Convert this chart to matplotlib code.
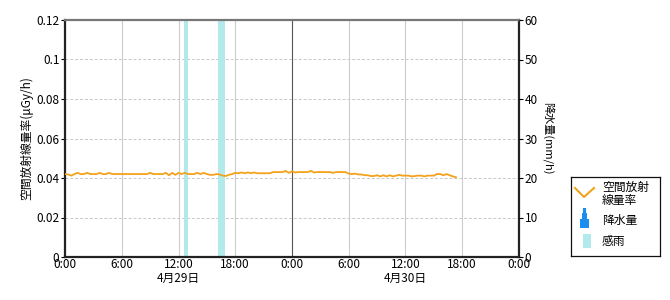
import numpy as np
import matplotlib.pyplot as plt
from matplotlib.patches import Rectangle

plt.rcParams['font.family'] = ['Noto Sans CJK JP', 'DejaVu Sans']

# 空間放射線量率 (x0.001 μGy/h), 20分間隔, 4/29 0:00 から
dose_0_6 = [42.0, 41.8, 41.2, 42.0, 42.6, 42.0, 42.0, 42.6, 42.0, 42.0, 42.0, 42.6, 42.0, 42.0, 42.6, 42.0, 42.0, 42.0]
dose_6_12 = [42.0, 42.0, 42.0, 42.0, 42.0, 42.0, 42.0, 42.0, 42.0, 42.6, 42.0, 42.0, 42.0, 42.0, 42.6, 41.4, 42.6, 41.6]
dose_12_18 = [42.6, 42.0, 42.6, 42.0, 42.0, 42.0, 42.6, 42.0, 42.6, 42.0, 41.6, 41.6, 42.0, 41.8, 41.2, 41.0, 41.6, 42.0]
dose_18_24 = [42.6, 42.4, 42.8, 42.4, 42.8, 42.4, 42.8, 42.4, 42.4, 42.4, 42.4, 42.4, 43.0, 43.0, 43.0, 43.0, 43.6, 42.6]
dose_24_30 = [43.4, 42.8, 43.0, 43.0, 43.0, 43.0, 43.6, 42.8, 43.0, 43.0, 43.0, 43.0, 43.0, 42.6, 43.0, 43.0, 43.0, 43.0]
dose_30_36 = [42.2, 42.0, 42.2, 41.8, 41.8, 41.4, 41.4, 41.0, 41.0, 41.4, 40.8, 41.4, 40.8, 41.4, 40.8, 41.2, 41.6, 41.2]
dose_36_42 = [41.2, 41.2, 40.8, 41.0, 41.2, 41.2, 40.8, 41.2, 41.2, 41.2, 42.0, 42.0, 41.4, 42.0, 41.4, 40.8, 40.4]
STEP_H = 20 / 60

# 感雨 (開始時刻, 終了時刻) [h]
rain_start = [12.6, 16.2]
rain_end = [13.0, 16.9]

x_ticks = [0, 6, 12, 18, 24, 30, 36, 42, 48]
x_labels = ['0:00', '6:00', '12:00', '18:00', '0:00', '6:00', '12:00', '18:00', '0:00']
date_pos = [12, 36]
date_labels = ['4月29日', '4月30日']

ORANGE = '#f5a21b'
RAIN_C = '#b2eaec'
BLUE = '#1b8ff0'


def main():
    dose = np.array(dose_0_6 + dose_6_12 + dose_12_18 + dose_18_24 + dose_24_30 + dose_30_36 + dose_36_42) / 1000
    t = np.arange(len(dose)) * STEP_H

    fig = plt.figure(figsize=(6.7, 3.0), dpi=100)
    ax = fig.add_axes([65 / 670, 43 / 300, 454 / 670, 237 / 300])

    # --- 感雨 ---
    for s, e in zip(rain_start, rain_end):
        ax.axvspan(s, e, color=RAIN_C, lw=0, zorder=1)

    # --- グリッド ---
    for xt in x_ticks[1:-1]:
        c = '#555555' if xt == 24 else '#cccccc'
        ax.axvline(xt, color=c, lw=0.8, zorder=0.5)
    for yt in [0.02, 0.04, 0.06, 0.08, 0.1]:
        ax.axhline(yt, color='#c8c8c8', lw=0.7, ls=(0, (3, 2)), zorder=0.5)

    ax.plot(t, dose, color=ORANGE, lw=1.3, zorder=3)

    ax.set_xlim(0, 48)
    ax.set_ylim(0, 0.12)
    ax.set_xticks(x_ticks)
    ax.set_xticklabels(x_labels)
    ax.set_yticks([0, 0.02, 0.04, 0.06, 0.08, 0.1, 0.12])
    ax.set_yticklabels(['0', '0.02', '0.04', '0.06', '0.08', '0.1', '0.12'])
    ax.tick_params(axis='both', labelsize=8.5, length=3, width=0.8, pad=1)
    ax.tick_params(axis='x', length=0, pad=1)
    ax.set_ylabel('空間放射線量率(μGy/h)', fontsize=8.5, labelpad=2)

    for sp in ['left', 'bottom', 'right']:
        ax.spines[sp].set_color('#222222')
        ax.spines[sp].set_linewidth(1.6)
    ax.spines['top'].set_color('#777777')
    ax.spines['top'].set_linewidth(1.6)

    # 日付ラベル
    for p, lab in zip(date_pos, date_labels):
        ax.annotate(lab, xy=(p, 0), xycoords=('data', 'axes fraction'),
                    xytext=(0, -10.5), textcoords='offset points',
                    ha='center', va='top', fontsize=8.5)

    # --- 降水量 (右軸) ---
    ax2 = ax.twinx()
    ax2.set_ylim(0, 60)
    ax2.set_yticks([0, 10, 20, 30, 40, 50, 60])
    ax2.tick_params(axis='y', labelsize=8.5, length=3, width=0.8, pad=1)
    ax2.set_ylabel('降水量(mm/h)', fontsize=8, rotation=-90, labelpad=12)
    for sp in ax2.spines.values():
        sp.set_visible(False)

    # --- 凡例 ---
    lg = fig.add_axes([571 / 670, 44 / 300, 89 / 670, 79 / 300])
    lg.set_xlim(0, 89)
    lg.set_ylim(79, 0)
    lg.set_xticks([])
    lg.set_yticks([])
    for sp in lg.spines.values():
        sp.set_linewidth(0.9)
        sp.set_color('#111111')
    lg.plot([4, 13, 23], [11, 20, 11], color=ORANGE, lw=1.5)
    lg.add_patch(Rectangle((9, 42), 9, 9, color=BLUE, lw=0))
    lg.add_patch(Rectangle((11, 36), 5, 7, color=BLUE, lw=0))
    lg.add_patch(Rectangle((12, 31), 3, 6, color=BLUE, lw=0))
    lg.add_patch(Rectangle((12, 57), 8, 14, color=RAIN_C, lw=0))
    lg.text(31, 4, '空間放射\n線量率', fontsize=8.5, va='top', ha='left', linespacing=1.0)
    lg.text(31, 43, '降水量', fontsize=8.5, va='center', ha='left')
    lg.text(31, 64, '感雨', fontsize=8.5, va='center', ha='left')

    fig.savefig('out.png', dpi=100)


if __name__ == "__main__":
    main()
